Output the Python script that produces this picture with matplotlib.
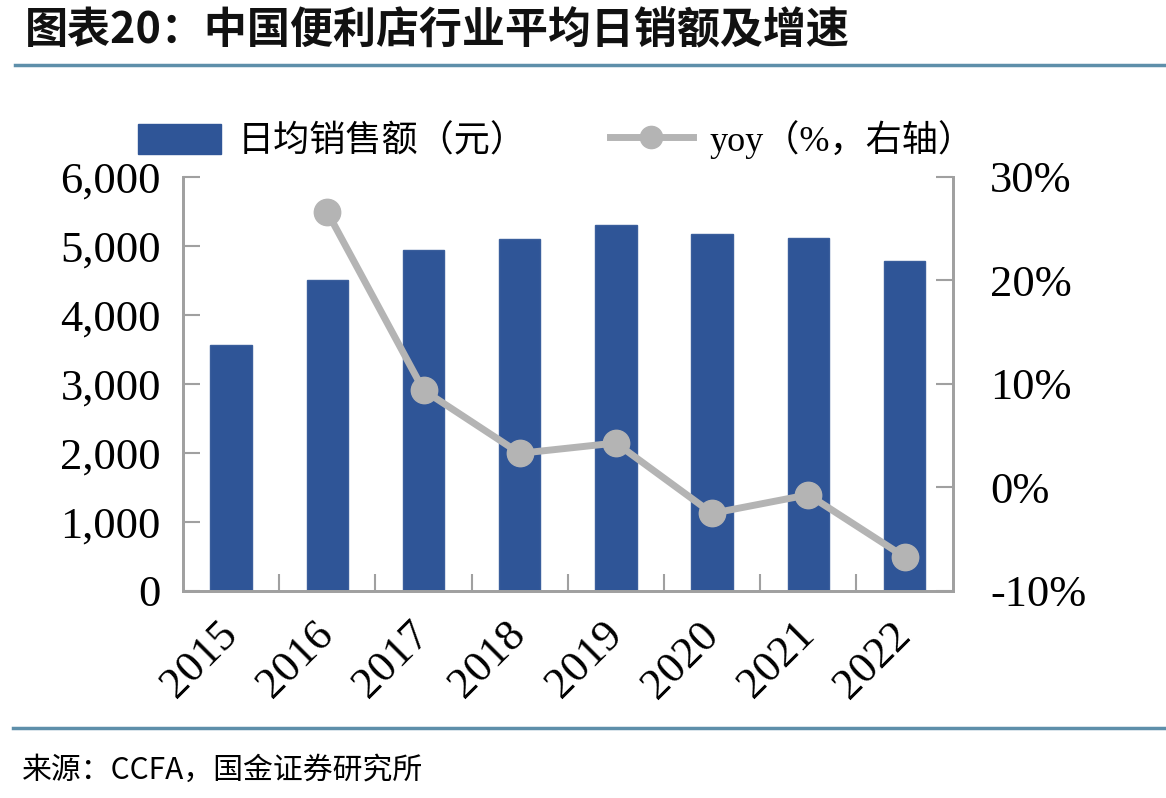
import matplotlib.pyplot as plt
from matplotlib.lines import Line2D
from matplotlib.ticker import FuncFormatter

plt.rcParams['font.family'] = ['Liberation Serif', 'Noto Sans CJK SC']

years = ['2015', '2016', '2017', '2018', '2019', '2020', '2021', '2022']
daily_sales = [3560, 4510, 4940, 5100, 5310, 5170, 5120, 4780]
yoy_years = ['2016', '2017', '2018', '2019', '2020', '2021', '2022']
yoy = [26.6, 9.4, 3.3, 4.3, -2.5, -0.7, -6.7]

title = '图表20：中国便利店行业平均日销额及增速'
source = '来源：CCFA，国金证券研究所'

bar_color = '#2F5597'
line_color = '#B4B4B4'
axis_color = '#A0A0A0'
rule_color = '#5E8FAA'

fig = plt.figure(figsize=(11.66, 7.98), dpi=100)
ax = fig.add_axes([0.157, 0.2594, 0.66, 0.5188])
ax2 = ax.twinx()

x = list(range(len(years)))
ax.bar(x, daily_sales, width=0.43, color=bar_color, edgecolor='#3A5E9C', linewidth=1, zorder=2)
ax.set_xlim(-0.5, len(years) - 0.5)
ax.set_ylim(0, 6000)
ax.set_yticks(range(0, 6001, 1000))
ax.yaxis.set_major_formatter(FuncFormatter(lambda v, p: f'{int(v):,}'))

xi = [years.index(y) for y in yoy_years]
ax2.plot(xi, yoy, color=line_color, linewidth=5, marker='o', markersize=19, zorder=3)
ax2.set_ylim(-10, 30)
ax2.set_yticks(range(-10, 31, 10))
ax2.yaxis.set_major_formatter(FuncFormatter(lambda v, p: f'{int(v)}%'))

# category separators on the x axis
ax.set_xticks(x)
ax.set_xticks([i + 0.5 for i in x[:-1]], minor=True)
ax.tick_params(axis='x', which='major', length=0, pad=27)
ax.tick_params(axis='x', which='minor', direction='in', length=12, width=1.5, color=axis_color)
ax.set_xticklabels(years, rotation=45, ha='right', va='center', rotation_mode='anchor', fontsize=32)

ax.tick_params(axis='y', direction='in', length=12, width=1.5, color=axis_color, labelsize=32, pad=16)
ax2.tick_params(axis='y', direction='in', length=12, width=1.5, color=axis_color, labelsize=32, pad=27)

for a in (ax, ax2):
    for side in ('left', 'right', 'bottom'):
        a.spines[side].set_color(axis_color)
        a.spines[side].set_linewidth(2)
    a.spines['top'].set_visible(False)

handles = [
    plt.Rectangle((0, 0), 1, 1, color=bar_color),
    Line2D([0], [0], color=line_color, linewidth=5, marker='o', markersize=16),
]
fig.legend(handles, ['日均销售额（元）', 'yoy（%，右轴）'], loc='center', bbox_to_anchor=(0.477, 0.825),
           ncol=2, frameon=False, handlelength=2.3, handleheight=0.9, handletextpad=0.45,
           columnspacing=2.3, prop={'family': ['Liberation Serif', 'Noto Sans CJK SC'], 'size': 26})

fig.text(0.021, 0.962, title, fontsize=31, fontweight='bold', color='#111111',
         family=['Noto Sans CJK SC'], va='center', ha='left')
fig.add_artist(Line2D([0.013, 0.999], [0.919, 0.919], color=rule_color, linewidth=2.5, transform=fig.transFigure))
fig.add_artist(Line2D([0.011, 0.999], [0.088, 0.088], color=rule_color, linewidth=2.5, transform=fig.transFigure))
fig.text(0.019, 0.035, source, fontsize=21.5, color='black', family=['Noto Sans CJK SC'], va='center', ha='left')

fig.savefig('out.png', dpi=100)
